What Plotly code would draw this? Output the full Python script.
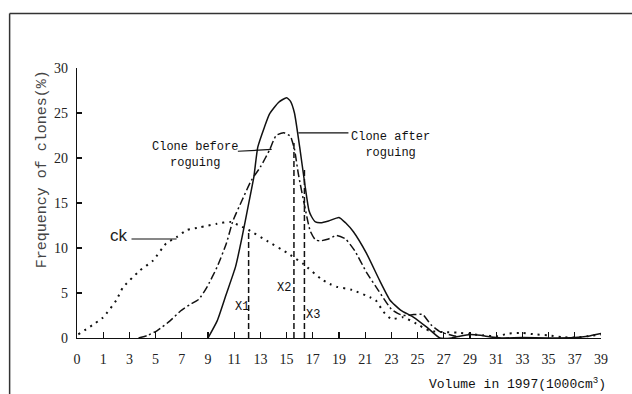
import plotly.graph_objects as go

# ---- data (volume in 1000 cm^3, frequency in %) ----
tick_labels = ["0", "1", "3", "5", "7", "9", "11", "13", "15", "17", "19",
               "21", "23", "25", "27", "29", "31", "33", "35", "37", "39"]

after_x = [9.0, 9.7, 10.4, 11.1, 11.6, 12.1, 12.5, 12.8, 13.3, 13.7, 14.4, 15.0, 15.3, 15.6,
           16.0, 16.4, 16.7, 16.9, 17.2, 17.6, 18.2, 19.0, 19.5, 20.1, 21.1, 22.1, 22.9, 23.7,
           24.7, 25.7, 26.7, 27.6, 28.2, 29.0, 29.8, 30.6, 31.4, 33.0, 35.0, 37.0, 38.0, 39.0]
after_y = [0, 1.9, 4.9, 7.9, 11.2, 14.9, 17.9, 21.2, 23.4, 24.9, 26.2, 26.7, 26.3, 25.0,
           21.2, 17.0, 14.2, 13.5, 12.9, 12.8, 13.0, 13.4, 12.8, 11.8, 9.4, 6.4, 4.2, 3.1,
           2.3, 1.2, 0, 0, 0.2, 0.4, 0.3, 0.1, 0, 0.05, 0, 0.05, 0.2, 0.5]

before_x = [3.7, 4.4, 5.1, 6.1, 6.9, 7.6, 8.3, 8.9, 9.7, 10.4, 10.9, 11.6, 12.3, 13.0, 13.7,
            14.2, 14.8, 15.3, 15.4, 15.6, 15.9, 16.4, 16.8, 17.2, 17.6, 18.2, 18.8, 19.5,
            20.2, 21.1, 22.0, 23.0, 23.7, 24.2, 24.7, 25.4, 26.0, 26.7, 27.6, 28.2]
before_y = [0, 0.3, 0.8, 1.9, 3.0, 3.7, 4.3, 5.6, 7.9, 10.5, 13.0, 15.3, 17.5, 19.0, 20.9,
            22.5, 22.8, 22.4, 22.0, 21.0, 18.2, 14.5, 11.9, 10.9, 10.8, 11.0, 11.4, 11.0,
            9.7, 7.3, 5.3, 3.2, 2.6, 2.5, 2.6, 2.6, 1.5, 0.7, 0.3, 0.1]

ck_x = [0.05, 1.0, 2.0, 2.5, 3.8, 4.8, 5.8, 6.6, 7.4, 8.4, 9.7, 10.7, 11.4, 12.1, 13.5, 15.0,
        16.3, 17.6, 18.3, 18.8, 20.0, 21.4, 21.8, 22.4, 23.0, 23.9, 24.9, 25.9, 27.0, 28.0,
        29.0, 30.0, 31.0, 32.0, 33.0, 34.0, 35.0, 36.0, 37.0, 38.0, 39.0]
ck_y = [0.4, 2.3, 4.2, 5.6, 7.5, 8.6, 10.5, 11.2, 12.0, 12.3, 12.7, 12.9, 12.5, 12.0, 10.8, 9.5,
        8.2, 6.6, 6.0, 5.7, 5.35, 4.5, 4.2, 2.9, 2.1, 2.3, 1.6, 0.8, 0.65, 0.6,
        0.45, 0.3, 0.2, 0.5, 0.55, 0.4, 0.3, 0.1, 0.05, 0.2, 0.4]

cut_names = ["X1", "X2", "X3"]
cut_x = [12.1, 15.56, 16.36]
cut_top = [12.0, 22.0, 19.0]


def pos(v):
    """Map a volume value onto the (non-linear) tick slots of the axis."""
    return v if v <= 1 else (v + 1) / 2


def posl(vs):
    return [pos(v) for v in vs]


INK = "#111111"
fig = go.Figure()

fig.add_trace(go.Scatter(x=posl(ck_x), y=ck_y, mode="lines", hoverinfo="skip",
                         line=dict(color=INK, width=2, dash="2px,5px", shape="spline", smoothing=0.5)))
fig.add_trace(go.Scatter(x=posl(before_x), y=before_y, mode="lines", hoverinfo="skip",
                         line=dict(color=INK, width=1.5, dash="8px,3px,2px,3px", shape="spline", smoothing=0.5)))
fig.add_trace(go.Scatter(x=posl(after_x), y=after_y, mode="lines", hoverinfo="skip",
                         line=dict(color=INK, width=1.5, shape="spline", smoothing=0.5)))
for cx, ct in zip(cut_x, cut_top):
    fig.add_trace(go.Scatter(x=[pos(cx), pos(cx)], y=[0, ct], mode="lines", hoverinfo="skip",
                             line=dict(color=INK, width=1.5, dash="6px,3px")))

mono = "Liberation Mono"
ann = [
    dict(x=4.5, y=20.3, text="Clone before<br>roguing", size=12),
    dict(x=11.95, y=21.5, text="Clone after<br>roguing", size=12),
    dict(x=6.3, y=3.4, text=cut_names[0], size=12),
    dict(x=7.9, y=5.6, text=cut_names[1], size=12),
    dict(x=9.0, y=2.6, text=cut_names[2], size=12),
]
for a in ann:
    fig.add_annotation(x=a["x"], y=a["y"], xref="x", yref="y", text=a["text"], showarrow=False,
                       font=dict(family=mono, size=a["size"], color=INK), align="center")
fig.add_annotation(x=1.59, y=11.4, xref="x", yref="y", text="ck", showarrow=False,
                   font=dict(family="Liberation Sans", size=17, color="#222"))
fig.add_annotation(x=-0.0866, y=0.625, xref="paper", yref="paper", text="Frequency of clones(%)",
                   textangle=-90, showarrow=False,
                   font=dict(family=mono, size=15, color="#444"))
fig.add_annotation(x=1.014, y=-0.1685, xref="paper", yref="paper",
                   text="Volume in 1997(1000cm<sup>3</sup>)", showarrow=False,
                   xanchor="right", yanchor="middle",
                   font=dict(family=mono, size=13, color=INK))

# leader lines
for (x0, y0, x1, y1) in [(2.08, 11.0, 3.8, 11.0), (6.14, 20.75, 7.43, 20.95), (8.45, 22.8, 10.36, 22.8)]:
    fig.add_shape(type="line", xref="x", yref="y", x0=x0, y0=y0, x1=x1, y1=y1,
                  line=dict(color=INK, width=1.2))

# page frame (top and left edges of the scanned figure)
fig.add_shape(type="line", xref="paper", yref="paper", x0=-0.1286, x1=-0.1286, y0=-0.215, y1=1.202,
              line=dict(color="#333", width=1.5))
fig.add_shape(type="line", xref="paper", yref="paper", x0=-0.1286, x1=1.07, y0=1.202, y1=1.202,
              line=dict(color="#333", width=1.5))

fig.update_layout(
    width=632, height=394,
    margin=dict(l=77, r=31, t=68, b=56),
    paper_bgcolor="white", plot_bgcolor="white",
    showlegend=False, hovermode=False,
    xaxis=dict(range=[0, 20], tickmode="array", tickvals=list(range(len(tick_labels))),
               ticktext=tick_labels, ticks="inside", ticklen=6, tickwidth=1.2, tickcolor=INK,
               showline=True, linecolor=INK, linewidth=1.3, showgrid=False, zeroline=False,
               tickfont=dict(family="Liberation Serif", size=14, color="#222"),
               ticklabelstandoff=8),
    yaxis=dict(range=[0, 30], tickmode="array", tickvals=[0, 5, 10, 15, 20, 25, 30],
               ticks="inside", ticklen=5, tickwidth=1.2, tickcolor=INK,
               showline=True, linecolor=INK, linewidth=1.3, showgrid=False, zeroline=False,
               tickfont=dict(family="Liberation Serif", size=14, color="#222"),
               ticklabelstandoff=5),
)

fig.write_html("out.html", config={"displayModeBar": False, "staticPlot": True},
               post_script="document.body.style.margin='0';document.body.style.padding='0';"
                           "document.documentElement.style.overflow='hidden';")
